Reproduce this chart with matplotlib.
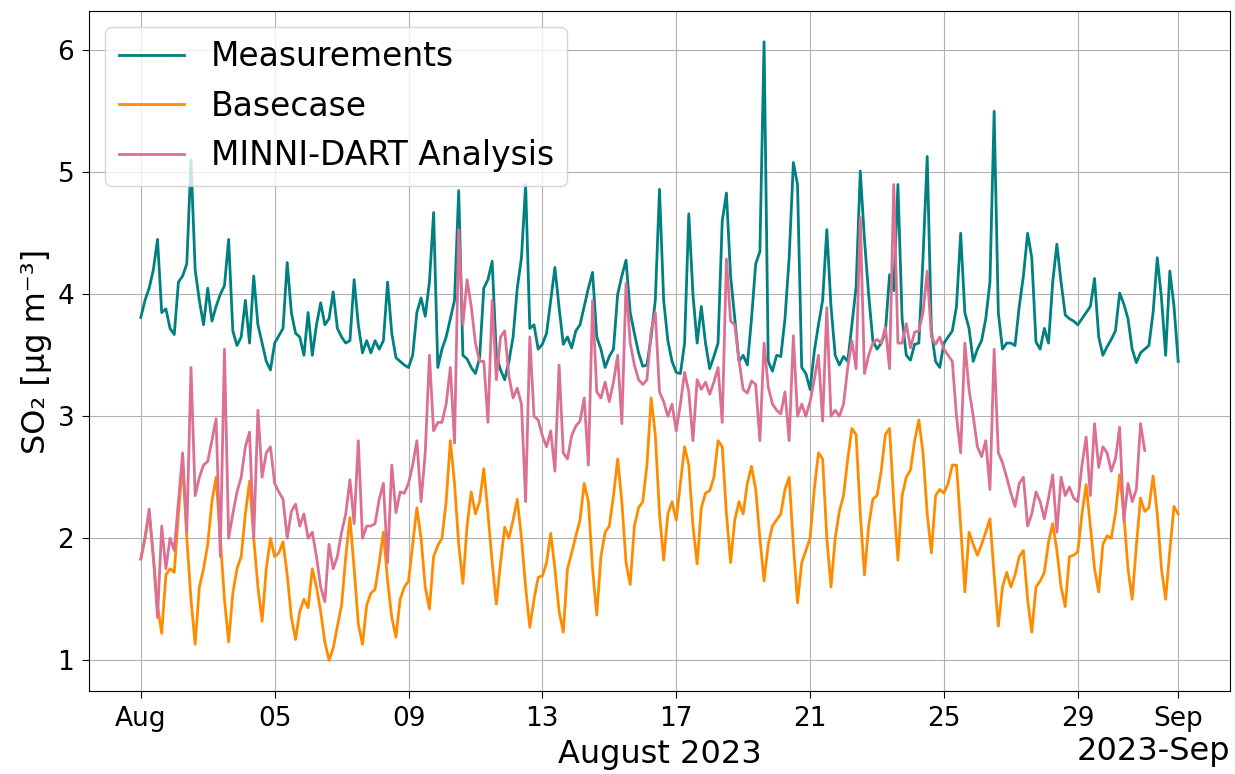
import numpy as np
import pandas as pd
import matplotlib
matplotlib.use('Agg')
import matplotlib.pyplot as plt
import matplotlib.dates as mdates

# 3-hourly SO2 values (ug/m3), one row per day starting 2023-08-01 00:00
measurements = [
    3.81, 3.95, 4.05, 4.20, 4.45, 3.85, 3.88, 3.72,
    3.67, 4.10, 4.15, 4.25, 5.10, 4.20, 3.95, 3.75,
    4.05, 3.78, 3.90, 4.00, 4.07, 4.45, 3.70, 3.58,
    3.65, 3.95, 3.60, 4.15, 3.75, 3.60, 3.45, 3.38,
    3.60, 3.66, 3.72, 4.26, 3.85, 3.68, 3.65, 3.50,
    3.85, 3.50, 3.75, 3.93, 3.75, 3.80, 4.02, 3.72,
    3.65, 3.60, 3.62, 4.12, 3.75, 3.52, 3.62, 3.52,
    3.62, 3.55, 3.62, 4.10, 3.68, 3.48, 3.45, 3.42,
    3.40, 3.50, 3.85, 3.97, 3.82, 4.10, 4.67, 3.40,
    3.55, 3.65, 3.80, 3.95, 4.85, 3.50, 3.47, 3.40,
    3.35, 3.48, 4.05, 4.12, 4.27, 3.50, 3.38, 3.30,
    3.45, 3.65, 4.05, 4.30, 4.90, 3.72, 3.75, 3.55,
    3.59, 3.68, 3.95, 4.22, 3.89, 3.59, 3.65, 3.56,
    3.70, 3.75, 3.90, 4.05, 4.18, 3.65, 3.55, 3.40,
    3.49, 3.55, 4.00, 4.15, 4.28, 3.85, 3.68, 3.52,
    3.41, 3.42, 3.65, 3.95, 4.86, 3.95, 3.62, 3.45,
    3.36, 3.35, 3.60, 4.66, 4.00, 3.60, 3.90, 3.60,
    3.39, 3.49, 3.60, 4.60, 4.83, 4.15, 3.80, 3.45,
    3.50, 3.42, 3.80, 4.25, 4.35, 6.07, 3.45, 3.37,
    3.50, 3.49, 3.80, 4.30, 5.08, 4.90, 3.40, 3.35,
    3.22, 3.53, 3.75, 3.95, 4.53, 3.90, 3.50, 3.42,
    3.49, 3.45, 3.75, 4.06, 5.01, 4.45, 4.00, 3.62,
    3.55, 3.60, 3.69, 4.16, 4.03, 4.90, 3.80, 3.50,
    3.46, 3.59, 3.60, 4.30, 5.13, 3.70, 3.45, 3.40,
    3.60, 3.65, 3.70, 3.90, 4.50, 3.85, 3.72, 3.45,
    3.55, 3.62, 3.80, 4.10, 5.50, 3.85, 3.55, 3.60,
    3.60, 3.58, 3.90, 4.15, 4.50, 4.30, 3.61, 3.55,
    3.72, 3.60, 4.10, 4.41, 4.10, 3.83, 3.80, 3.78,
    3.75, 3.80, 3.85, 3.90, 4.13, 3.65, 3.50, 3.57,
    3.63, 3.70, 4.01, 3.92, 3.80, 3.55, 3.44, 3.52,
    3.55, 3.58, 3.85, 4.30, 3.97, 3.50, 4.19, 3.90,
    3.45,
]

basecase = [
    1.83, 2.00, 2.20, 1.85, 1.45, 1.22, 1.70, 1.75,
    1.72, 2.20, 2.62, 2.00, 1.50, 1.13, 1.60, 1.75,
    1.95, 2.30, 2.50, 2.00, 1.50, 1.15, 1.55, 1.75,
    1.85, 2.20, 2.47, 2.00, 1.60, 1.32, 1.75, 2.00,
    1.85, 1.88, 1.97, 1.70, 1.35, 1.17, 1.40, 1.50,
    1.43, 1.75, 1.60, 1.40, 1.15, 1.00, 1.10, 1.28,
    1.45, 1.85, 2.17, 1.75, 1.30, 1.13, 1.45, 1.55,
    1.58, 1.80, 2.05, 1.65, 1.35, 1.19, 1.50, 1.60,
    1.65, 1.95, 2.25, 2.00, 1.60, 1.42, 1.85, 1.94,
    2.00, 2.30, 2.80, 2.45, 1.95, 1.63, 2.10, 2.38,
    2.20, 2.30, 2.57, 2.20, 1.80, 1.46, 1.80, 2.09,
    2.00, 2.15, 2.32, 2.00, 1.60, 1.27, 1.50, 1.68,
    1.69, 1.80, 2.04, 1.75, 1.40, 1.23, 1.75, 1.88,
    2.02, 2.15, 2.45, 2.30, 1.75, 1.37, 1.85, 2.05,
    2.10, 2.35, 2.65, 2.30, 1.80, 1.62, 2.10, 2.25,
    2.30, 2.60, 3.15, 2.85, 2.20, 1.82, 2.20, 2.30,
    2.15, 2.45, 2.75, 2.60, 2.10, 1.79, 2.25, 2.37,
    2.39, 2.50, 2.80, 2.75, 2.20, 1.80, 2.15, 2.30,
    2.20, 2.45, 2.59, 2.40, 2.00, 1.65, 1.95, 2.10,
    2.15, 2.20, 2.40, 2.50, 1.95, 1.47, 1.80, 1.90,
    2.00, 2.40, 2.70, 2.65, 2.00, 1.60, 2.00, 2.22,
    2.35, 2.65, 2.90, 2.85, 2.20, 1.70, 2.10, 2.32,
    2.35, 2.55, 2.85, 2.90, 2.30, 1.82, 2.35, 2.50,
    2.56, 2.80, 2.97, 2.70, 2.20, 1.88, 2.35, 2.40,
    2.37, 2.45, 2.60, 2.60, 2.10, 1.56, 2.05, 1.95,
    1.86, 1.95, 2.05, 2.16, 1.70, 1.28, 1.60, 1.72,
    1.60, 1.70, 1.85, 1.90, 1.50, 1.23, 1.60, 1.65,
    1.72, 1.97, 2.12, 1.90, 1.60, 1.44, 1.85, 1.86,
    1.89, 2.20, 2.44, 2.10, 1.75, 1.56, 1.95, 2.02,
    2.00, 2.20, 2.52, 2.20, 1.75, 1.50, 1.94, 2.33,
    2.22, 2.25, 2.51, 2.20, 1.75, 1.50, 1.90, 2.26,
    2.20,
]

# analysis run stops at 2023-08-31 00:00
analysis = [
    1.83, 2.00, 2.24, 1.85, 1.35, 2.10, 1.75, 2.00,
    1.90, 2.30, 2.70, 2.05, 3.40, 2.35, 2.50, 2.60,
    2.63, 2.80, 2.98, 1.85, 3.55, 2.00, 2.20, 2.38,
    2.50, 2.75, 2.87, 2.00, 3.05, 2.50, 2.70, 2.75,
    2.45, 2.38, 2.32, 2.00, 2.22, 2.28, 2.10, 2.20,
    2.00, 2.05, 1.85, 1.60, 1.48, 1.95, 1.75, 1.85,
    2.05, 2.20, 2.48, 2.12, 2.80, 2.00, 2.10, 2.10,
    2.12, 2.32, 2.45, 1.80, 2.60, 2.21, 2.38, 2.37,
    2.45, 2.60, 2.80, 2.30, 2.70, 3.50, 2.88, 2.95,
    2.95, 3.10, 3.40, 2.78, 4.53, 3.75, 4.12, 3.90,
    3.60, 3.45, 3.45, 2.95, 3.95, 3.30, 3.65, 3.70,
    3.33, 3.15, 3.23, 3.10, 2.30, 3.65, 3.00, 2.97,
    2.84, 2.75, 2.88, 2.55, 3.42, 2.70, 2.65, 2.84,
    2.92, 2.96, 3.15, 2.60, 3.95, 3.20, 3.15, 3.28,
    3.12, 3.28, 3.50, 2.94, 4.09, 3.60, 3.42, 3.30,
    3.26, 3.30, 3.70, 3.85, 3.20, 3.12, 3.00, 3.10,
    2.88, 3.10, 3.36, 3.20, 2.80, 3.30, 3.22, 3.28,
    3.18, 3.28, 3.40, 2.95, 4.29, 3.78, 3.75, 3.46,
    3.22, 3.19, 3.29, 3.26, 2.80, 3.60, 3.24, 3.10,
    3.05, 3.02, 3.20, 2.80, 3.66, 3.00, 3.10, 3.00,
    3.12, 3.30, 3.50, 2.96, 3.89, 3.00, 3.05, 3.00,
    3.10, 3.40, 3.62, 3.39, 4.63, 3.35, 3.50, 3.60,
    3.63, 3.60, 3.73, 3.39, 4.90, 3.60, 3.60, 3.76,
    3.56, 3.69, 3.70, 3.85, 4.19, 3.65, 3.59, 3.65,
    3.55, 3.50, 3.45, 3.00, 2.70, 3.60, 3.22, 3.00,
    2.75, 2.67, 2.80, 2.40, 3.55, 2.70, 2.62, 2.50,
    2.37, 2.26, 2.45, 2.50, 2.10, 2.20, 2.38, 2.30,
    2.16, 2.33, 2.52, 2.05, 2.50, 2.35, 2.42, 2.33,
    2.30, 2.60, 2.83, 2.35, 2.94, 2.58, 2.75, 2.70,
    2.55, 2.65, 2.91, 2.14, 2.45, 2.30, 2.40, 2.94,
    2.72,
]

t_obs = pd.date_range('2023-08-01', periods=len(measurements), freq='3h')
t_base = pd.date_range('2023-08-01', periods=len(basecase), freq='3h')
t_ana = pd.date_range('2023-08-01', periods=len(analysis), freq='3h')

fig, ax = plt.subplots(figsize=(12.35, 7.74), dpi=100)
fig.subplots_adjust(left=0.072, right=0.996, top=0.986, bottom=0.107)

ax.plot(t_obs, measurements, color='teal', lw=2, label='Measurements')
ax.plot(t_base, basecase, color='darkorange', lw=2, label='Basecase')
ax.plot(t_ana, analysis, color='palevioletred', lw=2, label='MINNI-DART Analysis')

locator = mdates.DayLocator(bymonthday=[1, 5, 9, 13, 17, 21, 25, 29])
ax.xaxis.set_major_locator(locator)
ax.xaxis.set_major_formatter(mdates.ConciseDateFormatter(locator))
ax.xaxis.get_offset_text().set_fontsize(23)

ax.tick_params(labelsize=19, length=5, pad=5.5)
ax.set_xlabel('August 2023', fontsize=23, labelpad=5)
ax.set_ylabel('SO₂ [µg m⁻³]', fontsize=23)
ax.grid(True)
ax.legend(loc='upper left', fontsize=23.7)

plt.savefig('out.png')
